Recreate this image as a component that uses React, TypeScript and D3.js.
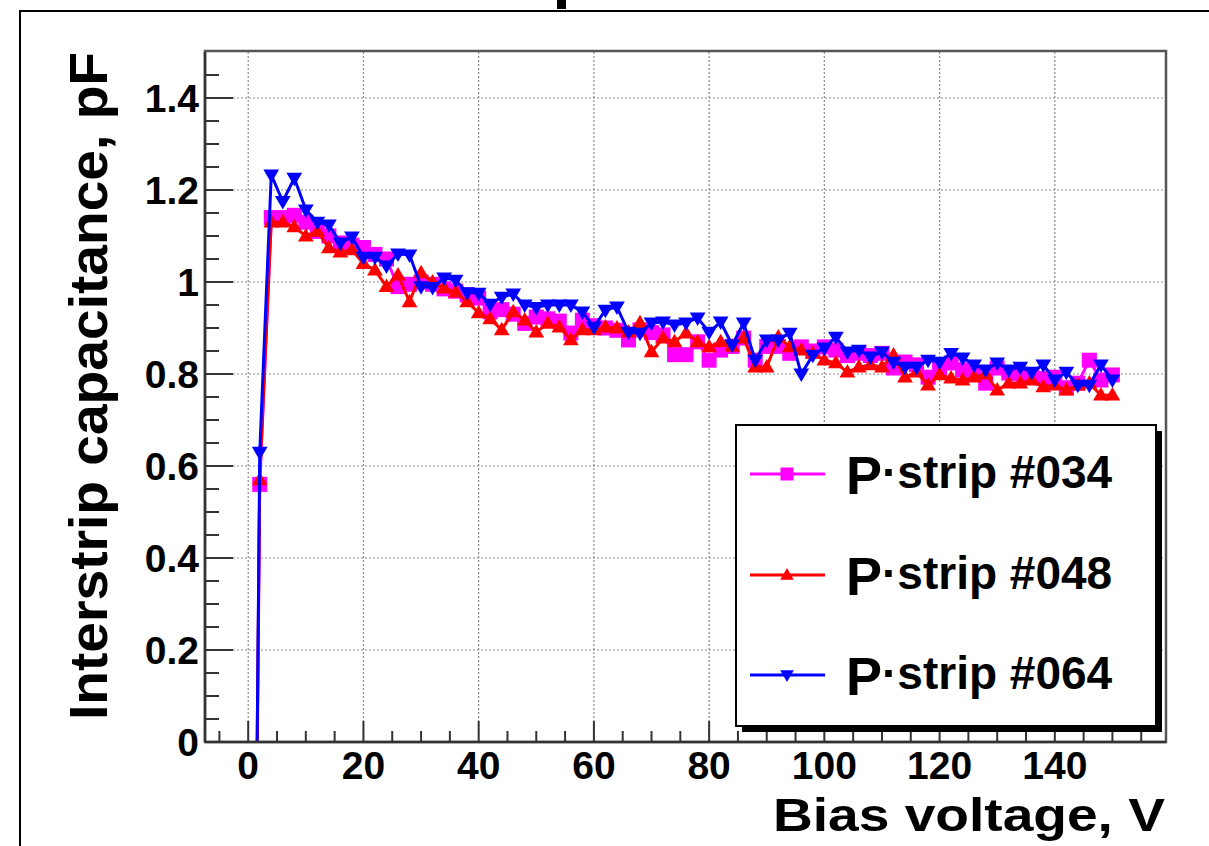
import React from 'react';
import * as d3 from 'd3';

const voltages = [0, 2, 4, 6, 8, 10, 12, 14, 16, 18, 20, 22, 24, 26, 28, 30, 32, 34, 36, 38, 40, 42, 44, 46, 48, 50, 52, 54, 56, 58, 60, 62, 64, 66, 68, 70, 72, 74, 76, 78, 80, 82, 84, 86, 88, 90, 92, 94, 96, 98, 100, 102, 104, 106, 108, 110, 112, 114, 116, 118, 120, 122, 124, 126, 128, 130, 132, 134, 136, 138, 140, 142, 144, 146, 148, 150];

const strip034 = [-2.2, 0.56, 1.14, 1.14, 1.145, 1.13, 1.11, 1.1, 1.085, 1.08, 1.075, 1.06, 1.05, 0.99, 0.995, 1.0, 0.995, 0.985, 0.98, 0.972, 0.965, 0.935, 0.94, 0.93, 0.91, 0.924, 0.92, 0.915, 0.889, 0.917, 0.905, 0.9, 0.895, 0.874, 0.896, 0.89, 0.885, 0.842, 0.842, 0.87, 0.83, 0.852, 0.86, 0.878, 0.83, 0.86, 0.86, 0.845, 0.859, 0.85, 0.859, 0.852, 0.84, 0.845, 0.84, 0.845, 0.813, 0.826, 0.82, 0.793, 0.809, 0.824, 0.809, 0.8, 0.78, 0.813, 0.802, 0.8, 0.798, 0.79, 0.793, 0.77, 0.78, 0.83, 0.787, 0.798];

const strip048 = [-2.0, 0.57, 1.13, 1.13, 1.12, 1.1, 1.11, 1.074, 1.065, 1.07, 1.04, 1.026, 0.99, 1.015, 0.957, 1.02, 1.0, 0.987, 0.978, 0.957, 0.933, 0.92, 0.896, 0.935, 0.917, 0.891, 0.91, 0.902, 0.874, 0.896, 0.896, 0.902, 0.9, 0.891, 0.911, 0.848, 0.878, 0.87, 0.889, 0.87, 0.859, 0.87, 0.86, 0.878, 0.815, 0.815, 0.88, 0.859, 0.852, 0.845, 0.83, 0.824, 0.804, 0.815, 0.82, 0.815, 0.841, 0.793, 0.804, 0.776, 0.798, 0.791, 0.787, 0.793, 0.8, 0.765, 0.78, 0.78, 0.787, 0.772, 0.776, 0.765, 0.776, 0.78, 0.754, 0.754];

const strip064 = [-2.2, 0.63, 1.233, 1.175, 1.226, 1.157, 1.13, 1.124, 1.085, 1.098, 1.054, 1.054, 1.035, 1.061, 1.059, 0.99, 0.988, 1.009, 1.004, 0.977, 0.976, 0.952, 0.967, 0.974, 0.95, 0.945, 0.95, 0.95, 0.95, 0.935, 0.902, 0.939, 0.946, 0.891, 0.889, 0.911, 0.913, 0.907, 0.911, 0.922, 0.891, 0.913, 0.863, 0.911, 0.83, 0.874, 0.874, 0.889, 0.8, 0.841, 0.857, 0.88, 0.848, 0.852, 0.837, 0.848, 0.826, 0.815, 0.815, 0.83, 0.826, 0.845, 0.835, 0.82, 0.809, 0.824, 0.809, 0.815, 0.804, 0.82, 0.787, 0.804, 0.776, 0.776, 0.82, 0.787];

const xTicks = [0, 20, 40, 60, 80, 100, 120, 140];
const xMinorTicks = [-5, 5, 10, 15, 25, 30, 35, 45, 50, 55, 65, 70, 75, 85, 90, 95, 105, 110, 115, 125, 130, 135, 145, 150, 155];
const yTicks = [0, 0.2, 0.4, 0.6, 0.8, 1, 1.2, 1.4];
const yTickLabels = ['0', '0.2', '0.4', '0.6', '0.8', '1', '1.2', '1.4'];
const yMinorTicks = [0.05, 0.1, 0.15, 0.25, 0.3, 0.35, 0.45, 0.5, 0.55, 0.65, 0.7, 0.75, 0.85, 0.9, 0.95, 1.05, 1.1, 1.15, 1.25, 1.3, 1.35, 1.45];
const legendLabels = ['#034', '#048', '#064'];
const xTitle = 'Bias voltage, V';
const yTitle = 'Interstrip capacitance, pF';

const FONT = '"Liberation Sans", Arial, Helvetica, sans-serif';

type Series = { name: string; values: number[]; color: string; marker: 'square' | 'up' | 'down' };

const series: Series[] = [
  { name: legendLabels[0], values: strip034, color: '#ff00ff', marker: 'square' },
  { name: legendLabels[1], values: strip048, color: '#ff0000', marker: 'up' },
  { name: legendLabels[2], values: strip064, color: '#0000ff', marker: 'down' },
];

function markerPath(kind: string, cx: number, cy: number, s: number): string {
  if (kind === 'square') {
    return `M${cx - s / 2},${cy - s / 2}h${s}v${s}h${-s}Z`;
  }
  const w = s * 1.05;
  const h = s * 0.9;
  if (kind === 'up') {
    return `M${cx},${cy - h * 0.6}L${cx + w / 2},${cy + h * 0.4}L${cx - w / 2},${cy + h * 0.4}Z`;
  }
  return `M${cx},${cy + h * 0.6}L${cx + w / 2},${cy - h * 0.4}L${cx - w / 2},${cy - h * 0.4}Z`;
}

export default function App() {
  const W = 1209;
  const H = 846;
  const left = 205;
  const right = 1166;
  const top = 52;
  const bottom = 742;

  const x = d3.scaleLinear().domain([-7.5, 159.3]).range([left, right]);
  const y = d3.scaleLinear().domain([0, 1.5]).range([bottom, top]);

  const line = d3
    .line<[number, number]>()
    .x((d) => x(d[0]))
    .y((d) => y(d[1]));

  const axisColor = '#333';
  const gridColor = '#8a8a8a';

  const lg = { x0: 736, y0: 425, x1: 1156, y1: 726 };
  const legendRows = [474, 575, 675];

  return (
    <div style={{ position: 'fixed', left: 0, top: 0, width: W, height: H, background: '#fff' }}>
      <svg width={W} height={H} style={{ display: 'block' }}>
        <rect x={0} y={0} width={W} height={H} fill="#fff" />
        {/* title remnant */}
        <rect x={557} y={0} width={9} height={9} fill="#000" />
        {/* outer canvas frame */}
        <path d={`M20,${H + 2}V11H${W + 2}`} fill="none" stroke="#000" strokeWidth={2} />

        <defs>
          <clipPath id="plotclip">
            <rect x={left} y={top} width={right - left} height={bottom - top} />
          </clipPath>
        </defs>

        {/* grid */}
        <g stroke={gridColor} strokeWidth={1.2} strokeDasharray="2,2">
          {xTicks.map((t) => (
            <line key={'gx' + t} x1={x(t)} x2={x(t)} y1={top} y2={bottom} />
          ))}
          {yTicks.map((t) => (
            <line key={'gy' + t} x1={left} x2={right} y1={y(t)} y2={y(t)} />
          ))}
        </g>

        {/* data */}
        <g clipPath="url(#plotclip)">
          {series.map((s) => {
            const pts: [number, number][] = voltages.map((v, i) => [v, s.values[i]]);
            return (
              <g key={s.name}>
                <path d={line(pts) || ''} fill="none" stroke={s.color} strokeWidth={3} strokeLinejoin="round" />
                {pts.map((p, i) => (
                  <path key={i} d={markerPath(s.marker, x(p[0]), y(p[1]), 15)} fill={s.color} />
                ))}
              </g>
            );
          })}
        </g>

        {/* axes frame */}
        <rect x={left} y={top - 1} width={right - left} height={bottom - top + 1} fill="none" stroke="#555" strokeWidth={2.5} />
        <line x1={left} x2={right} y1={bottom} y2={bottom} stroke={axisColor} strokeWidth={2.5} />
        <line x1={left} x2={left} y1={top} y2={bottom} stroke={axisColor} strokeWidth={2.5} />

        {/* ticks */}
        <g stroke={axisColor} strokeWidth={2}>
          {xTicks.map((t) => (
            <line key={'xt' + t} x1={x(t)} x2={x(t)} y1={bottom} y2={bottom - 21} />
          ))}
          {xMinorTicks.map((t) => (
            <line key={'xm' + t} x1={x(t)} x2={x(t)} y1={bottom} y2={bottom - 11} />
          ))}
          {yTicks.map((t) => (
            <line key={'yt' + t} x1={left} x2={left + 28} y1={y(t)} y2={y(t)} />
          ))}
          {yMinorTicks.map((t) => (
            <line key={'ym' + t} x1={left} x2={left + 14} y1={y(t)} y2={y(t)} />
          ))}
        </g>

        {/* tick labels */}
        <g fontFamily={FONT} fontWeight="bold" fontSize={39} fill="#000">
          {xTicks.map((t) => (
            <text key={'xl' + t} x={x(t)} y={779} textAnchor="middle">
              {String(t)}
            </text>
          ))}
          {yTicks.map((t, i) => (
            <text key={'yl' + t} x={199} y={y(t) + 14} textAnchor="end">
              {yTickLabels[i]}
            </text>
          ))}
        </g>

        {/* axis titles */}
        <text
          x={1165}
          y={831}
          textAnchor="end"
          fontFamily={FONT}
          fontWeight="bold"
          fontSize={47}
          textLength={392}
          lengthAdjust="spacingAndGlyphs"
          fill="#000"
        >
          {xTitle}
        </text>
        <text
          transform={`translate(107,52) rotate(-90)`}
          x={0}
          y={0}
          textAnchor="end"
          fontFamily={FONT}
          fontWeight="bold"
          fontSize={54}
          textLength={668}
          lengthAdjust="spacingAndGlyphs"
          fill="#000"
        >
          {yTitle}
        </text>

        {/* legend */}
        <rect x={lg.x0 + 6} y={lg.y0 + 6} width={lg.x1 - lg.x0} height={lg.y1 - lg.y0} fill="#000" />
        <rect x={lg.x0} y={lg.y0} width={lg.x1 - lg.x0} height={lg.y1 - lg.y0} fill="#fff" stroke="#000" strokeWidth={2} />
        {series.map((s, i) => (
          <g key={'lg' + s.name}>
            <line x1={750} x2={825} y1={legendRows[i]} y2={legendRows[i]} stroke={s.color} strokeWidth={3} />
            <path d={markerPath(s.marker, 787, legendRows[i], 13)} fill={s.color} />
            <text x={846} y={legendRows[i] + 20} fontFamily={FONT} fontWeight="bold" fill="#000">
              <tspan fontSize={54}>P</tspan>
              <tspan fontSize={46} dy={-6}>{'·strip ' + s.name}</tspan>
            </text>
          </g>
        ))}
      </svg>
    </div>
  );
}
